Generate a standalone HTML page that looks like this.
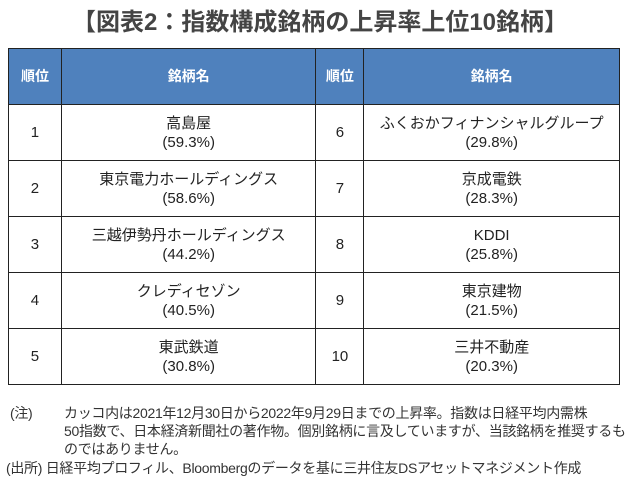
<!DOCTYPE html>
<html><head><meta charset="utf-8"><style>
body{margin:0;width:640px;height:485px;background:#fff;font-family:"Liberation Sans","Noto Sans CJK JP",sans-serif;color:#222;position:relative;overflow:hidden}
#title{position:absolute;left:0;top:2px;width:640px;text-align:center;font-size:24px;font-weight:bold;color:#444}
table{position:absolute;left:8px;top:48px;width:612px;border-collapse:collapse}
td,th{border:1.3px solid #222;text-align:center;padding:0;font-size:15px;line-height:19px}
th{background:#4f81bd;color:#fff;height:55px;font-size:14px}
td{height:55px}
.notes{position:absolute;left:10px;font-size:14px;line-height:18px;color:#333;white-space:nowrap;letter-spacing:-0.3px}
</style></head><body>
<div id="title">【図表2：指数構成銘柄の上昇率上位10銘柄】</div>
<table>
<colgroup><col style="width:53px"><col style="width:255px"><col style="width:48px"><col style="width:256px"></colgroup>
<tr><th>順位</th><th>銘柄名</th><th>順位</th><th>銘柄名</th></tr>
<tbody id="tb"></tbody>
</table>
<div class="notes" style="top:404px">(注)</div>
<div class="notes" style="left:64px;top:404px">カッコ内は2021年12月30日から2022年9月29日までの上昇率。指数は日経平均内需株<br>50指数で、日本経済新聞社の著作物。個別銘柄に言及していますが、当該銘柄を推奨するも<br>のではありません。</div>
<div class="notes" style="top:459px;left:6px">(出所) 日経平均プロフィル、Bloombergのデータを基に三井住友DSアセットマネジメント作成</div>
<script>
const names=["高島屋","東京電力ホールディングス","三越伊勢丹ホールディングス","クレディセゾン","東武鉄道","ふくおかフィナンシャルグループ","京成電鉄","KDDI","東京建物","三井不動産"];
const rates=[59.3,58.6,44.2,40.5,30.8,29.8,28.3,25.8,21.5,20.3];
const tb=document.getElementById('tb');
for(let i=0;i<5;i++){
 const tr=document.createElement('tr');
 
 
 [i,i+5].forEach(j=>{
  const r=document.createElement('td');r.textContent=j+1;
  
  
  const n=document.createElement('td');n.innerHTML=names[j]+'<br>('+rates[j].toFixed(1)+'%)';
  
  
  tr.appendChild(r);tr.appendChild(n);
 });
 tb.appendChild(tr);
}
</script>
</body></html>
